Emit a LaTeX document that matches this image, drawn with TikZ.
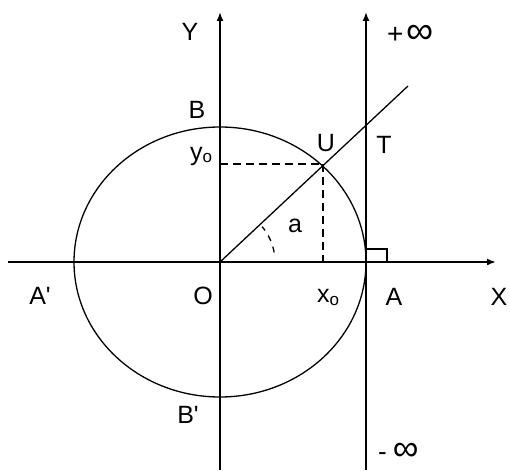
\documentclass[tikz,border=0pt]{standalone}
\usepackage{fontspec}
\setmainfont{Liberation Sans}[Ligatures=TeXOff]
\usetikzlibrary{arrows.meta}
\begin{document}
\begin{tikzpicture}[x=1pt,y=-1pt,
  axisarrow/.style={line width=1.7pt,-{Latex[length=9pt,width=7pt]}},
  thinline/.style={line width=1.3pt},
  dashline/.style={line width=1.3pt,dash pattern=on 8pt off 5pt},
  lbl/.style={font=\fontsize{25}{28}\selectfont, inner sep=0pt},
  inflbl/.style={inner sep=0pt, anchor=west}]
\path[use as bounding box] (0,0) rectangle (510,470);
% key points
\coordinate (O) at (220,262);
\coordinate (Ytop) at (220,12);
\coordinate (Ybot) at (220,470);
\coordinate (Xleft) at (8,262);
\coordinate (Xright) at (496,262);
\coordinate (Ttop) at (366,12);
\coordinate (Tbot) at (366,470);
\coordinate (U) at (323,164);
\coordinate (Dend) at (408,86);
\coordinate (Yo) at (220,164);
\coordinate (Xo) at (323,262);
% axes
\draw[axisarrow] (Xleft) -- (Xright);
\draw[axisarrow] (Ybot) -- (Ytop);
\draw[axisarrow] (Tbot) -- (Ttop);
% circle
\draw[thinline] (O) ellipse [x radius=146, y radius=135];
% radius line through U and T
\draw[thinline] (O) -- (Dend);
% projections
\draw[dashline] (Yo) -- (U);
\draw[dashline] (U) -- (Xo);
% angle arc
\draw[line width=1.3pt,dash pattern=on 6pt off 6pt] ([shift={(-10:55)}]O) arc[start angle=-10,end angle=-40,radius=55];
% right angle mark
\coordinate (R1) at (366,249);
\coordinate (R2) at (387,249);
\coordinate (R3) at (387,262);
\draw[line width=1.1pt] (R1) -- (R2) -- (R3);
% labels
\node[lbl] (lY) at (190,32) {Y};
\node[inflbl] (lpinf) at (387,34) {{\fontsize{28}{30}\selectfont +}\hspace{3pt}{\fontsize{38}{38}\selectfont ∞}};
\node[lbl] (lB) at (197,110) {B};
\node[lbl] (lyo) at (201,156) {y\raisebox{-2pt}{\fontsize{17}{18}\selectfont o}};
\node[lbl] (lU) at (326,143) {U};
\node[lbl] (lT) at (384,145) {T};
\node[lbl] (la) at (295,226) {a};
\node[lbl] (lAp) at (40,296) {A'};
\node[lbl] (lO) at (203,296) {O};
\node[lbl] (lxo) at (328,297) {x\raisebox{-3pt}{\fontsize{17}{18}\selectfont o}};
\node[lbl] (lA) at (394,297) {A};
\node[lbl] (lX) at (499,297) {X};
\node[lbl] (lBp) at (188,415) {B'};
\node[inflbl] (lminf) at (378,452) {{\fontsize{26}{28}\selectfont -}\hspace{6pt}{\fontsize{36}{36}\selectfont ∞}};
\end{tikzpicture}
\end{document}
